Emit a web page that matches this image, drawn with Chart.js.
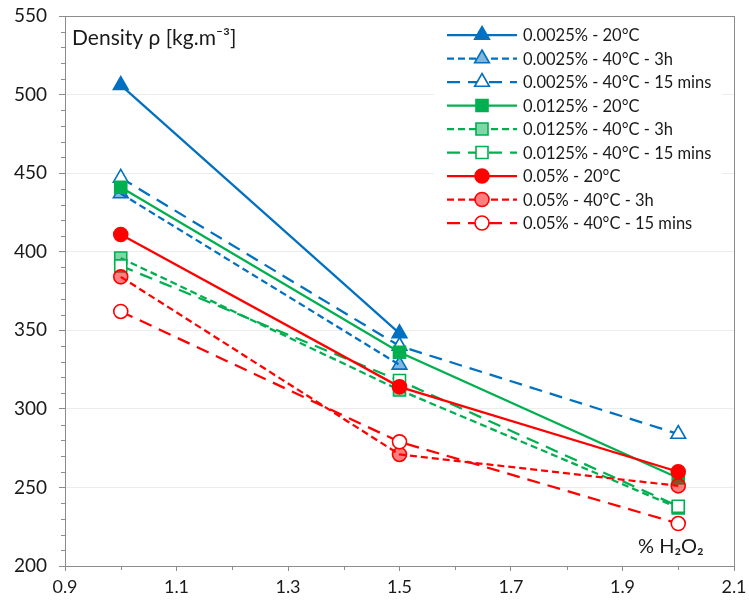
<!DOCTYPE html>
<html>
<head>
<meta charset="utf-8">
<title>Density vs H2O2</title>
<style>
    html, body { margin: 0; padding: 0; background: #fff; }
    #wrap { width: 749px; height: 603px; }
</style>
<script src="https://cdn.jsdelivr.net/npm/chart.js@4.4.0/dist/chart.umd.min.js"></script>
</head>
<body>
<div id="wrap"><canvas id="densityChart" width="749" height="603"></canvas></div>
<script>
// ==================== Data ====================
const h2o2 = [1, 1.5, 2];
const xTicks = [0.9, 1.1, 1.3, 1.5, 1.7, 1.9, 2.1];
const yTicks = [200, 250, 300, 350, 400, 450, 500, 550];

const seriesLabels = [
    '0.0025% - 20°C', '0.0025% - 40°C - 3h', '0.0025% - 40°C - 15 mins',
    '0.0125% - 20°C', '0.0125% - 40°C - 3h', '0.0125% - 40°C - 15 mins',
    '0.05% - 20°C', '0.05% - 40°C - 3h', '0.05% - 40°C - 15 mins'
];

const conc0025_20 = [506, 348];
const conc0025_3h = [437, 328];
const conc0025_15 = [447, 340, 284];
const conc0125_20 = [441, 336, 256];
const conc0125_3h = [396, 312, 237];
const conc0125_15 = [391, 318, 238];
const conc05_20 = [411, 314, 260];
const conc05_3h = [384, 271, 251];
const conc05_15 = [362, 279, 227];

const seriesValues = [
    conc0025_20, conc0025_3h, conc0025_15,
    conc0125_20, conc0125_3h, conc0125_15,
    conc05_20, conc05_3h, conc05_15
];

// ==================== Styles ====================
const BLUE = [0, 112, 192];
const GREEN = [0, 176, 80];
const RED = [255, 0, 0];
const rgb = (c, a = 1) => `rgba(${c[0]}, ${c[1]}, ${c[2]}, ${a})`;

const colours = [BLUE, BLUE, BLUE, GREEN, GREEN, GREEN, RED, RED, RED];
const markers = ['triangle', 'triangle', 'triangle', 'rect', 'rect', 'rect', 'circle', 'circle', 'circle'];
const markerSize = { triangle: 8.5, rect: 8.5, circle: 7 };
// 20°C = solid line + filled marker, 3h = short dash + tinted marker, 15 mins = long dash + open marker
const dashes = [[], [7, 4], [13, 8]];
const fills = [c => rgb(c), c => rgb(c, 0.5), () => '#fff'];

const TEXT = '#1a1a1a';
const AXIS = '#8c8c8c';
const FONT = 'Lato, "Open Sans", sans-serif';

const datasets = seriesValues.map((vals, i) => {
    const c = colours[i];
    const kind = i % 3;
    return {
        label: seriesLabels[i],
        data: vals.map((v, j) => ({ x: h2o2[j], y: v })),
        borderColor: rgb(c),
        borderWidth: 2.25,
        borderDash: dashes[kind],
        tension: 0,
        fill: false,
        pointStyle: markers[i],
        pointRadius: markerSize[markers[i]],
        pointHoverRadius: markerSize[markers[i]],
        pointBackgroundColor: fills[kind](c),
        pointBorderColor: rgb(c),
        pointBorderWidth: 1.6,
        order: -i
    };
});

// ==================== Plugins ====================
function markerPath(ctx, style, x, y, r) {
    ctx.beginPath();
    if (style === 'triangle') {
        let a = 0;
        ctx.moveTo(x + Math.sin(a) * r, y - Math.cos(a) * r);
        a += 2 * Math.PI / 3;
        ctx.lineTo(x + Math.sin(a) * r, y - Math.cos(a) * r);
        a += 2 * Math.PI / 3;
        ctx.lineTo(x + Math.sin(a) * r, y - Math.cos(a) * r);
        ctx.closePath();
    } else if (style === 'rect') {
        const s = Math.SQRT1_2 * r;
        ctx.rect(x - s, y - s, 2 * s, 2 * s);
    } else {
        ctx.arc(x, y, r, 0, Math.PI * 2);
    }
}

const frameAndTicks = {
    id: 'frameAndTicks',
    beforeDatasetsDraw(chart) {
        const { ctx, chartArea: a, scales } = chart;
        ctx.save();
        ctx.strokeStyle = AXIS;
        ctx.lineWidth = 1;
        ctx.strokeRect(Math.round(a.left) + 0.5, Math.round(a.top) + 0.5,
            Math.round(a.right - a.left), Math.round(a.bottom - a.top));

        // minor ticks
        ctx.beginPath();
        for (let v = 210; v < 550; v += 10) {
            if (v % 50 === 0) continue;
            const py = Math.round(scales.y.getPixelForValue(v)) + 0.5;
            ctx.moveTo(a.left - 4, py);
            ctx.lineTo(a.left, py);
        }
        for (let k = 10; k <= 20; k += 2) {
            const px = Math.round(scales.x.getPixelForValue(k / 10)) + 0.5;
            ctx.moveTo(px, a.bottom);
            ctx.lineTo(px, a.bottom + 4);
        }
        ctx.stroke();
        ctx.restore();
    },
    afterDraw(chart) {
        const { ctx, chartArea: a } = chart;
        ctx.save();
        ctx.fillStyle = TEXT;
        ctx.textBaseline = 'middle';
        ctx.font = `21px ${FONT}`;
        ctx.textAlign = 'left';
        ctx.fillText('Density ρ [kg.m\u207B\u00B3]', a.left + 7, 38);
        ctx.font = `20px ${FONT}`;
        ctx.fillText('% H\u2082O\u2082', 638, 547);

        // legend box
        const box = { left: 434, top: 18, right: 722, bottom: 238 };
        ctx.fillStyle = '#fff';
        ctx.fillRect(box.left, box.top, box.right - box.left, box.bottom - box.top);

        const lineX0 = 447, lineX1 = 517, textX = 523, rowY0 = 35, rowGap = 23.5;
        ctx.font = `16.5px ${FONT}`;
        chart.data.datasets.forEach((ds, i) => {
            const y = rowY0 + i * rowGap;
            ctx.save();
            ctx.strokeStyle = ds.borderColor;
            ctx.lineWidth = ds.borderWidth;
            ctx.setLineDash(ds.borderDash);
            ctx.beginPath();
            ctx.moveTo(lineX0, y);
            ctx.lineTo(lineX1, y);
            ctx.stroke();
            ctx.setLineDash([]);
            markerPath(ctx, ds.pointStyle, (lineX0 + lineX1) / 2, y, ds.pointRadius);
            ctx.fillStyle = '#fff';
            ctx.fill();
            ctx.fillStyle = ds.pointBackgroundColor;
            ctx.fill();
            ctx.lineWidth = ds.pointBorderWidth;
            ctx.strokeStyle = ds.pointBorderColor;
            ctx.stroke();
            ctx.restore();
            ctx.fillStyle = TEXT;
            ctx.fillText(ds.label, textX, y + 1);
        });
        ctx.restore();
    }
};

// ==================== Chart ====================
const ctx = document.getElementById('densityChart').getContext('2d');
const densityChart = new Chart(ctx, {
    type: 'line',
    data: { datasets },
    options: {
        responsive: false,
        animation: false,
        events: [],
        layout: { padding: { top: 16, right: 15, left: 0, bottom: 0 } },
        plugins: {
            legend: { display: false },
            tooltip: { enabled: false }
        },
        scales: {
            x: {
                type: 'linear',
                min: 0.9,
                max: 2.1,
                afterBuildTicks: scale => { scale.ticks = xTicks.map(v => ({ value: v })); },
                afterFit: scale => {
                    scale.height = 37;
                    scale.paddingLeft = 0;
                    scale.paddingRight = 0;
                },
                grid: { drawOnChartArea: false, tickLength: 5, tickColor: AXIS },
                border: { color: AXIS },
                ticks: {
                    color: TEXT,
                    font: { family: FONT, size: 18 },
                    padding: 5,
                    maxRotation: 0,
                    callback: v => v.toFixed(1)
                }
            },
            y: {
                min: 200,
                max: 550,
                afterBuildTicks: scale => { scale.ticks = yTicks.map(v => ({ value: v })); },
                afterFit: scale => {
                    scale.width = 65;
                    scale.paddingTop = 0;
                    scale.paddingBottom = 0;
                },
                grid: { color: '#ececec', tickLength: 6, tickColor: AXIS },
                border: { color: AXIS },
                ticks: {
                    color: TEXT,
                    font: { family: FONT, size: 19 },
                    padding: 12
                }
            }
        }
    },
    plugins: [frameAndTicks]
});
</script>
</body>
</html>
